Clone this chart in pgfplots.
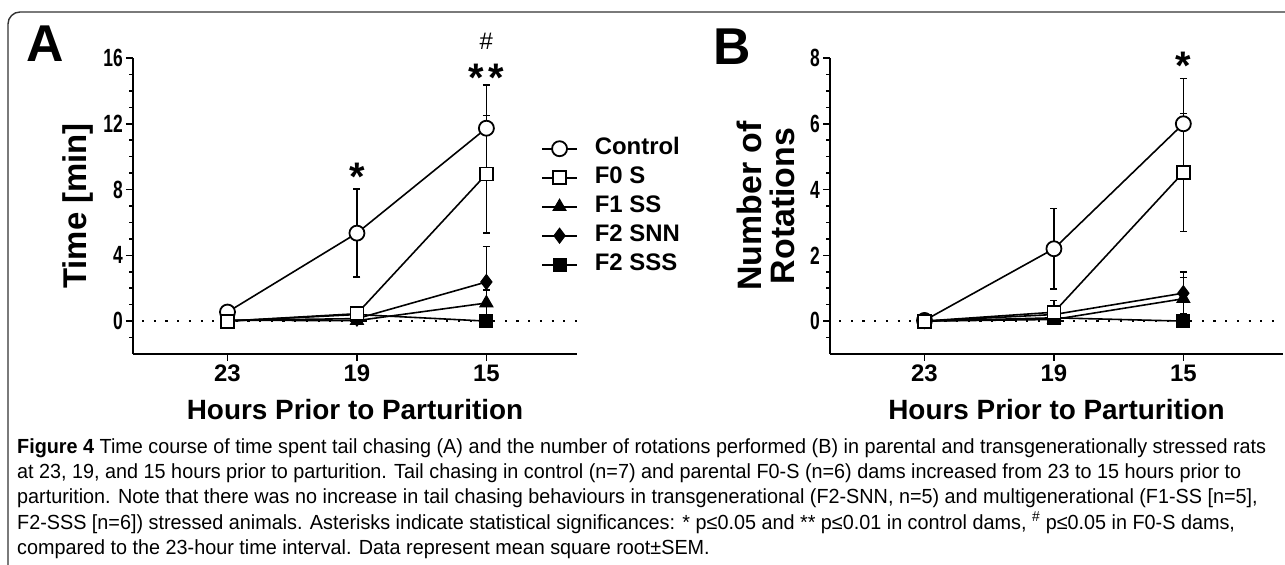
\documentclass[border=0pt]{standalone}
\usepackage{pgfplots}
\pgfplotsset{compat=1.18}
\usepackage{graphicx}
\usepackage{fontspec}
\setmainfont{Liberation Sans}
\newlength\Lone
\newcommand\capsize{\fontsize{20.5}{20.5}\selectfont}

\pgfplotsset{
  panel/.style={
    scale only axis, height=296bp,
    axis x line=bottom, axis y line=left,
    axis line style={-, line width=2.2bp, black},
    tick align=outside,
    major tick length=7bp, minor tick length=4bp,
    every tick/.style={line width=1.6bp, black},
    xtick={0,1,2}, xticklabels={23,19,15},
    xmin=-0.73,
    xticklabel style={font=\bfseries\fontsize{24}{24}\selectfont, inner sep=0pt, anchor=north, yshift=-4bp},
    yticklabel={\scalebox{0.7}[1]{\bfseries\fontsize{25}{25}\selectfont\pgfmathprintnumber{\tick}}},
    yticklabel style={inner sep=0pt, anchor=east, xshift=-3bp},
    /pgf/number format/assume math mode=true,
    xlabel={Hours Prior to Parturition},
    xlabel style={font=\bfseries\fontsize{28}{28}\selectfont, at={(axis description cs:0.5,-0.220)}, anchor=base},
    clip=false,
    legend image code/.code={\draw[mark repeat=2, mark phase=2, ##1] plot coordinates {(0bp,0bp) (17.5bp,0bp) (35bp,0bp)};},
  },
  eb/.style={/pgfplots/error bars/y dir=both, /pgfplots/error bars/y explicit,
    /pgfplots/error bars/error bar style={line width=1.5bp, black},
    /pgfplots/error bars/error mark options={rotate=90, line width=1.5bp, mark size=3.5bp, black}},
  sCtrl/.style={black, line width=1.6bp, mark=*, mark size=7.5bp, mark options={fill=white, draw=black, line width=1.8bp, solid}},
  sF0/.style={black, line width=1.6bp, mark=square*, mark size=6.5bp, mark options={fill=white, draw=black, line width=1.8bp, solid}},
  sF1/.style={black, line width=1.6bp, mark=triangle*, mark size=7.5bp, mark options={fill=black, draw=black, line width=1pt, solid}},
  sSNN/.style={black, line width=1.6bp, mark=diamond*, mark size=7.5bp, mark options={fill=black, draw=black, line width=1pt, solid}},
  sSSS/.style={black, line width=1.6bp, mark=square*, mark size=6.5bp, mark options={fill=black, draw=black, line width=1pt, solid}},
  zeroline/.style={black, line width=2.2bp, dash pattern=on 2.2bp off 9.5bp, mark=none},
}

\begin{document}%
\settowidth\Lone{\capsize\textbf{Figure 4} Time course of time spent tail chasing (A) and the number of rotations performed (B) in parental and transgenerationally stressed rats}%
\pgfmathsetmacro\capsx{1253.7/\Lone}%
\begin{tikzpicture}
\path[use as bounding box] (0,0) rectangle (1285bp,565bp);
% frame
\draw[line width=1.4bp, black!80, rounded corners=12bp] (8bp,-30bp) rectangle (1320bp,553bp);

% panel letters
\node[anchor=north west, inner sep=0pt, font=\bfseries\fontsize{52}{52}\selectfont] at (26bp,539bp) {A};
\node[anchor=north west, inner sep=0pt, font=\bfseries\fontsize{52}{52}\selectfont] at (713bp,536bp) {B};

% ---------------- Panel A ----------------
\begin{axis}[panel, at={(133bp,211bp)}, anchor=south west, width=444bp,
  xmax=2.70, ymin=-2, ymax=16,
  ytick={0,4,8,12,16}, minor ytick={-1,1,2,3,5,6,7,9,10,11,13,14,15},
  ylabel={Time [min]},
  ylabel style={font=\bfseries\fontsize{33}{33}\selectfont, at={(axis description cs:-0.124,0.5)}, anchor=center},
  legend style={at={(axis description cs:0.919,0.728)}, anchor=north west, draw=none, fill=none,
    inner sep=0pt, row sep=9bp,
    nodes={inner sep=0pt, text height=16bp, text depth=4bp, font=\bfseries\fontsize{24}{24}\selectfont},
    /tikz/every odd column/.append style={column sep=17bp}},
  legend cell align=left,
]
\addlegendimage{sCtrl}\addlegendentry{Control}
\addlegendimage{sF0}\addlegendentry{F0 S}
\addlegendimage{sF1}\addlegendentry{F1 SS}
\addlegendimage{sSNN}\addlegendentry{F2 SNN}
\addlegendimage{sSSS}\addlegendentry{F2 SSS}

\addplot[zeroline, forget plot] coordinates {(-0.66,0) (2.70,0)};

\addplot[sSSS, forget plot, eb] table[x=x, y=y, y error=e] {
x y e
0 0.00 0.00
1 0.40 0.20
2 0.00 0.00
};
\addplot[sF1, forget plot, eb] table[x=x, y=y, y error=e] {
x y e
0 0.05 0.05
1 0.03 0.05
2 1.10 0.80
};
\addplot[sSNN, forget plot, eb] table[x=x, y=y, y error=e] {
x y e
0 0.05 0.05
1 0.15 0.10
2 2.38 2.15
};
\addplot[sCtrl, forget plot, eb] table[x=x, y=y, y error=e] {
x y e
0 0.55 0.25
1 5.35 2.67
2 11.73 2.64
};
\addplot[sF0, forget plot, eb] table[x=x, y=y, y error=e] {
x y e
0 0.00 0.00
1 0.45 0.30
2 8.94 3.57
};

\node[inner sep=0pt, font=\bfseries\fontsize{40}{40}\selectfont] at (axis cs:1,8.8) {*};
\node[inner sep=0pt, font=\bfseries\fontsize{40}{40}\selectfont] at (axis cs:2,14.8) {*\hspace{5bp}*};
\node[inner sep=0pt, font=\fontsize{24}{24}\selectfont] at (axis cs:2,17.0) {\#};
\end{axis}

% ---------------- Panel B ----------------
\begin{axis}[panel, at={(830bp,211bp)}, anchor=south west, width=453bp,
  xmax=2.77, ymin=-1, ymax=8,
  ytick={0,2,4,6,8}, minor ytick={-0.5,0.5,1,1.5,2.5,3,3.5,4.5,5,5.5,6.5,7,7.5},
  ylabel={Number of\\Rotations},
  ylabel style={font=\bfseries\fontsize{34}{33}\selectfont, align=center, at={(axis description cs:-0.141,0.5)}, anchor=center},
]
\addplot[zeroline] coordinates {(-0.66,0) (2.77,0)};

\addplot[sSSS, eb] table[x=x, y=y, y error=e] {
x y e
0 0.00 0.00
1 0.10 0.10
2 0.00 0.00
};
\addplot[sF1, eb] table[x=x, y=y, y error=e] {
x y e
0 0.00 0.00
1 0.05 0.05
2 0.68 0.64
};
\addplot[sSNN, eb] table[x=x, y=y, y error=e] {
x y e
0 0.00 0.00
1 0.20 0.10
2 0.85 0.64
};
\addplot[sCtrl, eb] table[x=x, y=y, y error=e] {
x y e
0 0.02 0.05
1 2.20 1.22
2 6.00 1.38
};
\addplot[sF0, eb] table[x=x, y=y, y error=e] {
x y e
0 0.00 0.00
1 0.27 0.36
2 4.52 1.80
};

\node[inner sep=0pt, font=\bfseries\fontsize{40}{40}\selectfont] at (axis cs:2,7.75) {*};
\end{axis}

% ---------------- Caption ----------------
\node[anchor=base west, inner sep=0pt, font=\capsize] at (17bp,111bp) {\scalebox{\capsx}[1]{\textbf{Figure 4} Time course of time spent tail chasing (A) and the number of rotations performed (B) in parental and transgenerationally stressed rats}};
\node[anchor=base west, inner sep=0pt, font=\capsize] at (17bp,86bp) {\scalebox{\capsx}[1]{at 23, 19, and 15 hours prior to parturition. Tail chasing in control (n=7) and parental F0-S (n=6) dams increased from 23 to 15 hours prior to}};
\node[anchor=base west, inner sep=0pt, font=\capsize] at (17bp,61bp) {\scalebox{\capsx}[1]{parturition. Note that there was no increase in tail chasing behaviours in transgenerational (F2-SNN, n=5) and multigenerational (F1-SS [n=5],}};
\node[anchor=base west, inner sep=0pt, font=\capsize] at (17bp,36bp) {\scalebox{\capsx}[1]{F2-SSS [n=6]) stressed animals. Asterisks indicate statistical significances: * p≤0.05 and ** p≤0.01 in control dams, \textsuperscript{\#} p≤0.05 in F0-S dams,}};
\node[anchor=base west, inner sep=0pt, font=\capsize] at (17bp,11bp) {\scalebox{\capsx}[1]{compared to the 23-hour time interval. Data represent mean square root±SEM.}};
\end{tikzpicture}%
\end{document}
